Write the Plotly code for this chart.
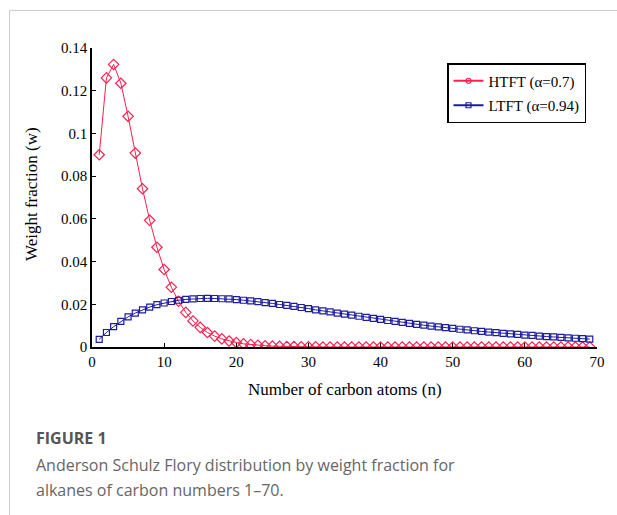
import plotly.graph_objects as go

n_htft = list(range(1, 70))
w_htft = [0.0900, 0.1260, 0.1323, 0.1235, 0.1080, 0.0908, 0.0741, 0.0593, 0.0467, 0.0363,
          0.0280, 0.0214, 0.0162, 0.0122, 0.0092, 0.0068, 0.0051, 0.0038, 0.0028, 0.0021,
          0.0015, 0.0011, 0.0008, 0.0006, 0.0004, 0.0003, 0.0002, 0.0002, 0.0001, 0.0001,
          0.0001, 0.0000, 0.0000, 0.0000, 0.0000, 0.0000, 0.0000, 0.0000, 0.0000, 0.0000,
          0.0000, 0.0000, 0.0000, 0.0000, 0.0000, 0.0000, 0.0000, 0.0000, 0.0000, 0.0000,
          0.0000, 0.0000, 0.0000, 0.0000, 0.0000, 0.0000, 0.0000, 0.0000, 0.0000, 0.0000,
          0.0000, 0.0000, 0.0000, 0.0000, 0.0000, 0.0000, 0.0000, 0.0000, 0.0000]

n_ltft = list(range(1, 70))
w_ltft = [0.0036, 0.0068, 0.0095, 0.0120, 0.0141, 0.0159, 0.0174, 0.0187, 0.0198, 0.0206,
          0.0213, 0.0219, 0.0223, 0.0225, 0.0227, 0.0228, 0.0227, 0.0226, 0.0225, 0.0222,
          0.0219, 0.0216, 0.0212, 0.0208, 0.0204, 0.0199, 0.0195, 0.0190, 0.0185, 0.0180,
          0.0174, 0.0169, 0.0164, 0.0159, 0.0154, 0.0149, 0.0144, 0.0139, 0.0134, 0.0129,
          0.0124, 0.0120, 0.0115, 0.0111, 0.0106, 0.0102, 0.0098, 0.0094, 0.0091, 0.0087,
          0.0083, 0.0080, 0.0076, 0.0073, 0.0070, 0.0067, 0.0064, 0.0061, 0.0059, 0.0056,
          0.0054, 0.0051, 0.0049, 0.0047, 0.0045, 0.0043, 0.0041, 0.0039, 0.0037]

y_tickvals = [0, 0.02, 0.04, 0.06, 0.08, 0.10, 0.12, 0.14]
y_ticktext = ["0", "0.02", "0.04", "0.06", "0.08", "0.1", "0.12", "0.14"]
x_tickvals = [0, 10, 20, 30, 40, 50, 60, 70]

RED = "#ff2050"
BLUE = "#1c1ca0"
SERIF = "Liberation Serif"

fig = go.Figure()
fig.add_trace(go.Scatter(
    x=n_htft, y=w_htft, name="HTFT (α=0.7)", mode="lines+markers",
    line=dict(color=RED, width=1), showlegend=False, legendgroup="h",
    marker=dict(symbol="diamond-open", size=8, color=RED, line=dict(width=1.2)),
))
fig.add_trace(go.Scatter(
    x=n_ltft, y=w_ltft, name="LTFT (α=0.94)", mode="lines+markers",
    line=dict(color=BLUE, width=1), showlegend=False, legendgroup="l",
    marker=dict(symbol="square-open", size=6, color=BLUE, line=dict(width=1.2)),
))
# legend entries (small symbols, as in the original legend)
fig.add_trace(go.Scatter(
    x=[None], y=[None], name="HTFT (α=0.7)", mode="lines+markers", legendgroup="h",
    line=dict(color=RED, width=2),
    marker=dict(symbol="circle-open", size=5, color=RED, line=dict(width=1.2)),
))
fig.add_trace(go.Scatter(
    x=[None], y=[None], name="LTFT (α=0.94)", mode="lines+markers", legendgroup="l",
    line=dict(color=BLUE, width=2),
    marker=dict(symbol="square-open", size=5, color=BLUE, line=dict(width=1.2)),
))

L, R, T, B = 92, 20, 48, 168
W, H = 617, 515
pw, ph = W - L - R, H - T - B

def px(x):
    return (x - L) / pw

def py(y):
    return (H - B - y) / ph

fig.update_layout(
    width=W, height=H,
    margin=dict(l=L, r=R, t=T, b=B),
    paper_bgcolor="white", plot_bgcolor="white",
    showlegend=True,
    legend=dict(
        x=px(447), y=py(63), xanchor="left", yanchor="top",
        bgcolor="white", bordercolor="black", borderwidth=1.5,
        font=dict(family=SERIF, size=15, color="black"),
        itemwidth=30, tracegroupgap=2,
    ),
    xaxis=dict(
        range=[0, 70], tickvals=x_tickvals, ticks="inside", ticklen=4,
        tickcolor="black", showline=True, linecolor="black", linewidth=1.5,
        showgrid=False, zeroline=False,
        tickfont=dict(family=SERIF, size=15, color="black"),
    ),
    yaxis=dict(
        range=[0, 0.14], tickvals=y_tickvals, ticktext=y_ticktext,
        ticks="inside", ticklen=4, tickcolor="black",
        showline=True, linecolor="black", linewidth=1.5,
        showgrid=False, zeroline=False,
        tickfont=dict(family=SERIF, size=15, color="black"),
    ),
    shapes=[
        dict(type="line", xref="paper", yref="paper",
             x0=px(9.5), x1=px(617), y0=py(10.5), y1=py(10.5),
             line=dict(color="#cccccc", width=1)),
        dict(type="line", xref="paper", yref="paper",
             x0=px(9.5), x1=px(9.5), y0=py(10.5), y1=py(515),
             line=dict(color="#cccccc", width=1)),
    ],
    annotations=[
        dict(text="Number of carbon atoms (n)", xref="paper", yref="paper",
             x=px(345), y=py(390), xanchor="center", yanchor="middle",
             showarrow=False, font=dict(family=SERIF, size=17, color="black")),
        dict(text="Weight fraction (w)", xref="paper", yref="paper",
             x=px(31), y=py(194), xanchor="center", yanchor="middle",
             textangle=-90, showarrow=False,
             font=dict(family=SERIF, size=17, color="black")),
        dict(text="<b>FIGURE 1</b>", xref="paper", yref="paper",
             x=px(34), y=py(438), xanchor="left", yanchor="middle",
             showarrow=False, font=dict(family="Open Sans", size=16, color="#555555")),
        dict(text="Anderson Schulz Flory distribution by weight fraction for",
             xref="paper", yref="paper",
             x=px(34), y=py(465), xanchor="left", yanchor="middle",
             showarrow=False, font=dict(family="Open Sans", size=16, color="#666666")),
        dict(text="alkanes of carbon numbers 1–70.",
             xref="paper", yref="paper",
             x=px(34), y=py(490), xanchor="left", yanchor="middle",
             showarrow=False, font=dict(family="Open Sans", size=16, color="#666666")),
    ],
)

fig.write_html("out.html")
